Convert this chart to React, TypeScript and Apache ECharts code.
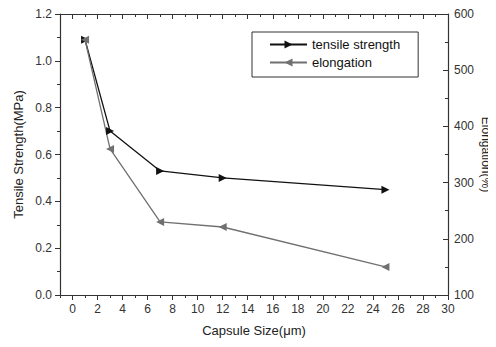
import React, { useEffect, useRef } from "react";
import * as echarts from "echarts";

const capsuleSize = [1, 3, 7, 12, 25];
const tensileStrength = [1.09, 0.7, 0.53, 0.5, 0.45];
const elongation = [554, 360, 230, 221, 150];
const xMajorTicks = [0, 2, 4, 6, 8, 10, 12, 14, 16, 18, 20, 22, 24, 26, 28, 30];
const xMinorTicks = [-1, 1, 3, 5, 7, 9, 11, 13, 15, 17, 19, 21, 23, 25, 27, 29];

const FONT = "Liberation Sans, Arial, sans-serif";
const AXIS = "#333";

export default function App() {
  const ref = useRef<HTMLDivElement>(null);
  useEffect(() => {
    if (!ref.current) return;
    const chart = echarts.init(ref.current, null, { renderer: "svg" });
    const baseX = {
      type: "value",
      min: -1,
      max: 30,
      splitLine: { show: false },
    };
    chart.setOption({
      animation: false,
      backgroundColor: "#fff",
      textStyle: { fontFamily: FONT },
      grid: { left: 60, right: 48, top: 14, bottom: 52, containLabel: false, outerBoundsMode: "none" },
      legend: {
        orient: "vertical",
        left: 252,
        top: 32,
        width: 173,
        borderColor: "#333",
        borderWidth: 1,
        padding: [6, 18, 8, 17],
        itemWidth: 37,
        itemHeight: 10,
        itemGap: 5,
        textStyle: { fontSize: 13, color: "#111", fontFamily: FONT },
        data: ["tensile strength", "elongation"],
      },
      xAxis: [
        {
          ...baseX,
          position: "bottom",
          name: "Capsule Size(μm)",
          nameLocation: "middle",
          nameGap: 29,
          nameMoveOverlap: false,
          nameTextStyle: { fontSize: 13, color: "#222", fontFamily: FONT },
          axisLine: { show: true, onZero: false, lineStyle: { color: AXIS, width: 1.2 } },
          axisTick: { show: true, inside: false, length: 5, customValues: xMajorTicks, lineStyle: { color: AXIS } },
          axisLabel: { show: true, customValues: xMajorTicks, margin: 8, fontSize: 12, color: "#333", fontFamily: FONT },
        },
        {
          ...baseX,
          position: "bottom",
          axisLine: { show: false, onZero: false },
          axisTick: { show: true, inside: false, length: 3, customValues: xMinorTicks, lineStyle: { color: AXIS } },
          axisLabel: { show: false },
        },
        {
          ...baseX,
          position: "top",
          axisLine: { show: true, onZero: false, lineStyle: { color: AXIS, width: 1.2 } },
          axisTick: { show: true, inside: true, length: 5, customValues: xMajorTicks, lineStyle: { color: AXIS } },
          axisLabel: { show: false },
        },
        {
          ...baseX,
          position: "top",
          axisLine: { show: false, onZero: false },
          axisTick: { show: true, inside: true, length: 3, customValues: xMinorTicks, lineStyle: { color: AXIS } },
          axisLabel: { show: false },
        },
      ],
      yAxis: [
        {
          type: "value",
          position: "left",
          min: 0,
          max: 1.2,
          interval: 0.2,
          name: "Tensile Strength(MPa)",
          nameLocation: "middle",
          nameGap: 35,
          nameMoveOverlap: false,
          nameTextStyle: { fontSize: 13, color: "#222", fontFamily: FONT },
          splitLine: { show: false },
          axisLine: { show: true, onZero: false, lineStyle: { color: AXIS, width: 1.2 } },
          axisTick: { show: true, inside: false, length: 5, lineStyle: { color: AXIS } },
          minorTick: { show: true, splitNumber: 2, length: 3, lineStyle: { color: AXIS } },
          axisLabel: { margin: 8, fontSize: 12, color: "#333", fontFamily: FONT, formatter: (v: number) => v.toFixed(1) },
        },
        {
          type: "value",
          position: "right",
          min: 100,
          max: 600,
          interval: 100,
          name: "Elongation(%)",
          nameLocation: "middle",
          nameRotate: -90,
          nameGap: 32,
          nameMoveOverlap: false,
          nameTextStyle: { fontSize: 12, color: "#222", fontFamily: FONT },
          splitLine: { show: false },
          axisLine: { show: true, onZero: false, lineStyle: { color: AXIS, width: 1.2 } },
          axisTick: { show: true, inside: true, length: 5, lineStyle: { color: AXIS } },
          minorTick: { show: true, splitNumber: 2, length: 3, lineStyle: { color: AXIS } },
          axisLabel: { margin: 6, fontSize: 12, color: "#333", fontFamily: FONT },
        },
      ],
      series: [
        {
          name: "tensile strength",
          type: "line",
          xAxisIndex: 0,
          yAxisIndex: 0,
          data: capsuleSize.map((x, i) => [x, tensileStrength[i]]),
          symbol: "triangle",
          symbolRotate: -90,
          symbolSize: 8,
          color: "#111",
          lineStyle: { color: "#111", width: 1.3 },
          itemStyle: { color: "#111" },
        },
        {
          name: "elongation",
          type: "line",
          xAxisIndex: 0,
          yAxisIndex: 1,
          data: capsuleSize.map((x, i) => [x, elongation[i]]),
          symbol: "triangle",
          symbolRotate: 90,
          symbolSize: 8,
          color: "#707070",
          lineStyle: { color: "#707070", width: 1.3 },
          itemStyle: { color: "#707070" },
        },
      ],
    });
    return () => chart.dispose();
  }, []);
  return <div ref={ref} style={{ width: 496, height: 347, margin: -8 }} />;
}
